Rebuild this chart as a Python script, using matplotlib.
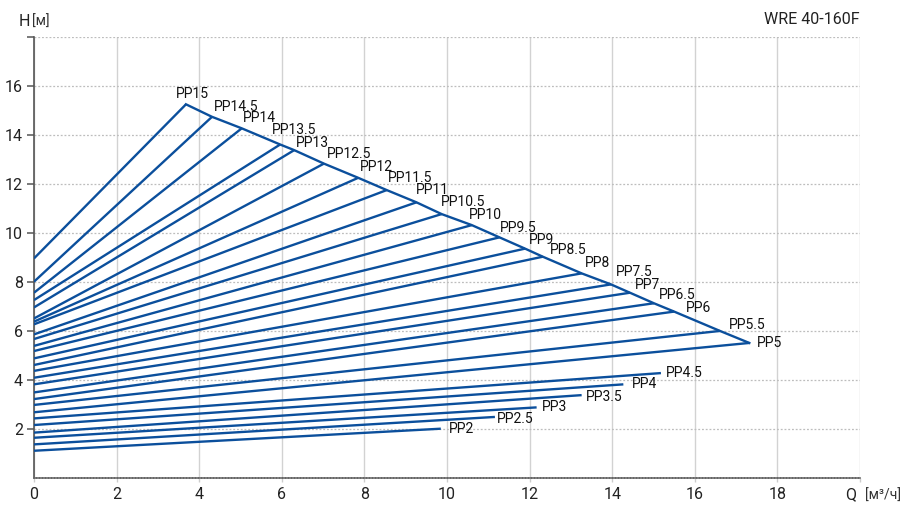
import matplotlib
matplotlib.use("Agg")
import matplotlib.pyplot as plt

plt.rcParams["font.family"] = ["Roboto", "DejaVu Sans"]

# Impeller trims: label, head at Q=0, end point (Q, H) of each curve
labels = ["PP2", "PP2.5", "PP3", "PP3.5", "PP4", "PP4.5", "PP5", "PP5.5",
          "PP6", "PP6.5", "PP7", "PP7.5", "PP8", "PP8.5", "PP9", "PP9.5",
          "PP10", "PP10.5", "PP11", "PP11.5", "PP12", "PP12.5", "PP13",
          "PP13.5", "PP14", "PP14.5", "PP15"]
h_start = [1.10, 1.36, 1.63, 1.84, 2.15, 2.42, 2.67, 2.97,
           3.21, 3.48, 3.81, 4.08, 4.36, 4.60, 4.87, 5.17,
           5.38, 5.66, 5.85, 6.26, 6.37, 6.50, 6.95,
           7.25, 7.55, 8.00, 8.95]
q_end = [9.85, 11.16, 12.17, 13.26, 14.27, 15.18, 17.32, 16.61,
         15.50, 15.01, 14.43, 13.97, 13.26, 12.32, 11.89, 11.27,
         10.60, 9.87, 9.26, 8.54, 7.85, 7.02, 6.30,
         5.96, 5.03, 4.31, 3.68]
h_end = [2.00, 2.48, 2.87, 3.37, 3.81, 4.27, 5.50, 5.99,
         6.78, 7.12, 7.55, 7.89, 8.34, 9.02, 9.35, 9.81,
         10.31, 10.76, 11.24, 11.74, 12.24, 12.82, 13.37,
         13.60, 14.26, 14.73, 15.24]

# Label placement (pixel offsets from the curve end, text is left aligned)
label_offsets = [(8, 0), (2, -2), (5, 0), (4, -2), (9, 0), (5, 0), (8, 0), (9, 6),
                 (12, 4), (5, 8), (5, 8), (5, 12), (3, 10), (7, 7), (4, 9), (0, 9),
                 (-3, 10), (-1, 12), (-1, 12), (1, 12), (2, 11), (3, 10), (2, 7),
                 (-8, 15), (1, 10), (2, 10), (-10, 10)]

line_color = "#0b4f9c"
envelope_from = labels.index("PP5")

fig = plt.figure(figsize=(9.04, 5.05), dpi=100)
ax = fig.add_axes([34 / 904, 27.3 / 505, 826 / 904, 441 / 505])

for lab, y0, q1, h1 in zip(labels, h_start, q_end, h_end):
    ax.plot([0, q1], [y0, h1], color=line_color, lw=1.7, solid_capstyle="butt", zorder=3)

# Upper envelope through the end points of PP5 ... PP15
ax.plot(q_end[envelope_from:], h_end[envelope_from:], color=line_color, lw=1.7, zorder=3)

for lab, q1, h1, (dx, dy) in zip(labels, q_end, h_end, label_offsets):
    ax.annotate(lab, (q1, h1), xytext=(dx, dy), textcoords="offset pixels",
                ha="left", va="center", fontsize=10, color="#111111", zorder=4)

ax.set_xlim(0, 20)
ax.set_ylim(0, 18)
ax.set_xticks(range(0, 21, 2))
ax.set_xticklabels([str(v) for v in range(0, 19, 2)] + [""])
ax.set_yticks(range(2, 19, 2))
ax.set_yticklabels([str(v) for v in range(2, 17, 2)] + [""])

ax.set_axisbelow(True)
ax.xaxis.grid(True, color="#d2d2d2", lw=1.0, ls="-")
ax.yaxis.grid(True, color="#bdbdbd", lw=0.9, ls=(0, (1.5, 1.5)))

for side in ("top", "right"):
    ax.spines[side].set_visible(False)
ax.spines["left"].set_color("#555555")
ax.spines["left"].set_linewidth(1.2)
ax.spines["bottom"].set_color("#666666")
ax.spines["bottom"].set_linewidth(1.2)
ax.spines["bottom"].set_linestyle((0, (1.2, 0.6)))

ax.tick_params(axis="y", length=5, width=1.1, color="#555555", pad=3,
               labelsize=11.5, labelcolor="#222222")
ax.tick_params(axis="x", length=3, width=1.0, color="#cccccc", pad=4,
               labelsize=11.5, labelcolor="#222222")

# Axis titles
fig.text(19 / 904, 1 - 21 / 505, "H", fontsize=11.5, color="#222222", va="center", ha="left")
fig.text(32 / 904, 1 - 21.5 / 505, "[м]", fontsize=10, color="#333333", va="center", ha="left")
fig.text(845 / 904, 1 - 495 / 505, "Q", fontsize=11.5, color="#222222", va="center", ha="left")
fig.text(865 / 904, 1 - 495.5 / 505, "[м³/ч]", fontsize=10, color="#333333", va="center", ha="left")
fig.text(860 / 904, 1 - 19 / 505, "WRE 40-160F", fontsize=11.5, color="#222222",
         va="center", ha="right")

fig.savefig("out.png", dpi=100)
